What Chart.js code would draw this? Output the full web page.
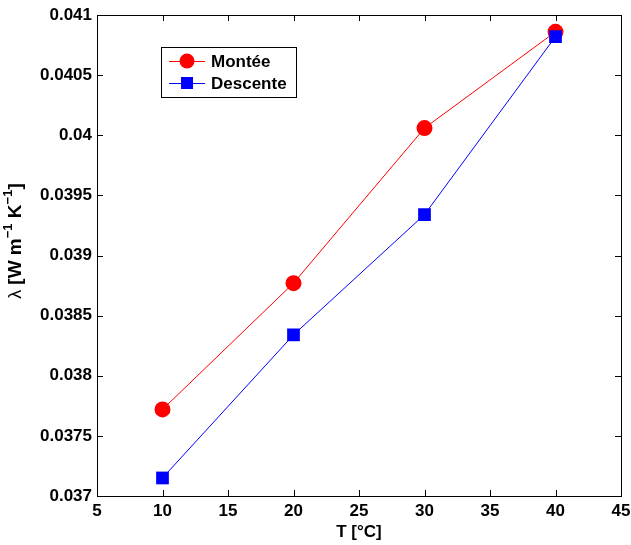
<!DOCTYPE html>
<html>
<head>
<meta charset="utf-8">
<script src="https://cdn.jsdelivr.net/npm/chart.js@4"></script>
<style>
  html, body { margin: 0; padding: 0; background: #fff; }
  #wrap { width: 631px; height: 545px; position: relative; }
</style>
</head>
<body>
<div id="wrap"><canvas id="chart" width="631" height="545"></canvas></div>
<script>
// Temperatures and conductivity values
const temps = [10, 20, 30, 40];
const montee = [0.03772, 0.03877, 0.04006, 0.04086];
const descente = [0.03715, 0.03834, 0.03934, 0.04082];
const seriesNames = ['Montée', 'Descente'];

const FONT = 'Liberation Sans, Arial, Helvetica, sans-serif';

function toPoints(xs, ys) {
    return xs.map((x, i) => ({ x: x, y: ys[i] }));
}

// MATLAB style frame with inward ticks on all four sides
const framePlugin = {
    id: 'frame',
    afterDraw(chart) {
        const { ctx, chartArea: a, scales } = chart;
        ctx.save();
        ctx.strokeStyle = '#000';
        ctx.lineWidth = 1;
        ctx.strokeRect(a.left + 0.5, a.top + 0.5, a.right - a.left, a.bottom - a.top);
        const len = 6;
        ctx.beginPath();
        scales.x.ticks.forEach(t => {
            const px = Math.round(scales.x.getPixelForValue(t.value)) + 0.5;
            ctx.moveTo(px, a.bottom); ctx.lineTo(px, a.bottom - len);
            ctx.moveTo(px, a.top); ctx.lineTo(px, a.top + len);
        });
        scales.y.ticks.forEach(t => {
            const py = Math.round(scales.y.getPixelForValue(t.value)) + 0.5;
            ctx.moveTo(a.left, py); ctx.lineTo(a.left + len, py);
            ctx.moveTo(a.right, py); ctx.lineTo(a.right - len, py);
        });
        ctx.stroke();
        ctx.restore();
    }
};

// y title with real superscripts: λ [W m^-1 K^-1]
const yTitle = {
    id: 'yTitle',
    afterDraw(chart) {
        const ctx = chart.ctx;
        const parts = [
            { t: 'λ ', f: '18px ' + FONT, dy: 0 },
            { t: '[W m', f: 'bold 19px ' + FONT, dy: 0 },
            { t: '−1', f: 'bold 13px ' + FONT, dy: -9 },
            { t: ' K', f: 'bold 19px ' + FONT, dy: 0 },
            { t: '−1', f: 'bold 13px ' + FONT, dy: -9 },
            { t: ']', f: 'bold 19px ' + FONT, dy: 0 }
        ];
        ctx.save();
        let total = 0;
        parts.forEach(p => { ctx.font = p.f; p.w = ctx.measureText(p.t).width; total += p.w; });
        ctx.translate(21, 241);
        ctx.rotate(-Math.PI / 2);
        ctx.fillStyle = '#000';
        ctx.textBaseline = 'alphabetic';
        let x = -total / 2;
        parts.forEach(p => {
            ctx.font = p.f;
            ctx.fillText(p.t, x, p.dy);
            x += p.w;
        });
        ctx.restore();
    }
};

// Boxed legend in the upper left, like the original
const legendBox = {
    id: 'legendBox',
    afterDraw(chart) {
        const { ctx, chartArea: a } = chart;
        const x0 = a.left + 64, y0 = a.top + 32, w = 135, h = 50;
        ctx.save();
        ctx.fillStyle = '#fff';
        ctx.fillRect(x0, y0, w, h);
        ctx.strokeStyle = '#000';
        ctx.lineWidth = 1;
        ctx.strokeRect(x0 + 0.5, y0 + 0.5, w, h);
        ctx.font = 'bold 17px ' + FONT;
        ctx.textBaseline = 'middle';
        chart.data.datasets.forEach((ds, i) => {
            const cy = y0 + 14 + i * 22;
            ctx.strokeStyle = ds.borderColor;
            ctx.beginPath();
            ctx.moveTo(x0 + 8, cy + 0.5); ctx.lineTo(x0 + 44, cy + 0.5);
            ctx.stroke();
            ctx.fillStyle = ds.pointBackgroundColor;
            if (ds.pointStyle === 'circle') {
                ctx.beginPath(); ctx.arc(x0 + 26, cy, 7.5, 0, Math.PI * 2); ctx.fill();
            } else {
                ctx.fillRect(x0 + 20, cy - 6, 12, 12);
            }
            ctx.fillStyle = '#000';
            ctx.fillText(seriesNames[i], x0 + 50, cy + 1);
        });
        ctx.restore();
    }
};

new Chart(document.getElementById('chart'), {
    type: 'scatter',
    data: {
        datasets: [{
            label: seriesNames[0],
            data: toPoints(temps, montee),
            order: 1,
            showLine: true,
            borderColor: '#ff0000',
            borderWidth: 1,
            pointStyle: 'circle',
            pointRadius: 8,
            pointBackgroundColor: '#ff0000',
            pointBorderColor: '#ff0000',
            pointBorderWidth: 0
        }, {
            label: seriesNames[1],
            data: toPoints(temps, descente),
            order: 0,
            showLine: true,
            borderColor: '#0000ff',
            borderWidth: 1,
            pointStyle: 'rect',
            pointRadius: 9,
            pointBackgroundColor: '#0000ff',
            pointBorderColor: '#0000ff',
            pointBorderWidth: 0
        }]
    },
    options: {
        responsive: false,
        animation: false,
        layout: { padding: { left: 9, right: 10, top: 15, bottom: 0 } },
        plugins: {
            legend: { display: false },
            tooltip: { enabled: false }
        },
        scales: {
            x: {
                type: 'linear',
                min: 5, max: 45,
                afterFit(scale) { scale.height = 49; scale.paddingRight = 0; scale.paddingLeft = 0; },
                grid: { display: false, drawTicks: false },
                border: { display: false },
                ticks: {
                    stepSize: 5, padding: 5, color: '#000',
                    font: { family: FONT, size: 17, weight: 'bold' }
                },
                title: {
                    display: true, text: 'T [°C]', color: '#000', padding: { top: 0, bottom: 2 },
                    font: { family: FONT, size: 17, weight: 'bold' }
                }
            },
            y: {
                min: 0.037, max: 0.041,
                afterFit(scale) { scale.width = 88; scale.paddingTop = 0; scale.paddingBottom = 0; },
                grid: { display: false, drawTicks: false },
                border: { display: false },
                ticks: {
                    stepSize: 0.0005, padding: 5, color: '#000',
                    font: { family: FONT, size: 17, weight: 'bold' },
                    callback: v => parseFloat(v.toFixed(4)).toString()
                },
                title: { display: false }
            }
        }
    },
    plugins: [framePlugin, yTitle, legendBox]
});
</script>
</body>
</html>
